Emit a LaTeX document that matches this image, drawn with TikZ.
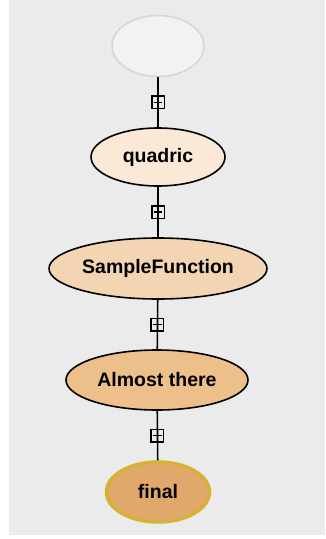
\documentclass[tikz,border=0pt]{standalone}
\usepackage{fontspec}
\setmainfont{Liberation Sans}
\usetikzlibrary{shapes.geometric}
\definecolor{bgc}{HTML}{EBEBEB}
\definecolor{topfill}{HTML}{F2F2F2}
\definecolor{topline}{HTML}{D6D6D6}
\definecolor{qfill}{HTML}{FBE9D8}
\definecolor{sfill}{HTML}{F3D5B4}
\definecolor{afill}{HTML}{ECBF8B}
\definecolor{ffill}{HTML}{E0A86B}
\definecolor{fline}{HTML}{D6B234}
\tikzset{
  stage/.style={ellipse, draw=black, line width=1.6pt, inner sep=0pt,
    font=\fontsize{19.5}{22}\selectfont\bfseries},
  plusmark/.style={draw=black, line width=1.5pt, minimum size=12.5pt, inner sep=0pt,
    path picture={\draw[line width=1.5pt] ([xshift=2pt]path picture bounding box.west) -- ([xshift=-2pt]path picture bounding box.east);}},
  link/.style={draw=black, line width=1.6pt}
}
\begin{document}
\begin{tikzpicture}[x=1pt,y=-1pt]
\useasboundingbox (0,0) rectangle (325,539);
\fill[bgc] (9,0) rectangle (325,535);
\node[stage, draw=topline, fill=topfill, minimum width=92pt, minimum height=61pt] (start) at (158,46) {};
\node[stage, fill=qfill, minimum width=134pt, minimum height=58pt] (quadric) at (158,157) {quadric};
\node[stage, fill=sfill, minimum width=218pt, minimum height=61pt] (sample) at (158,268.5) {SampleFunction};
\node[stage, fill=afill, minimum width=182pt, minimum height=60pt] (almost) at (157,380) {Almost there};
\node[stage, draw=fline, line width=3.5pt, fill=ffill, minimum width=103pt, minimum height=60pt] (final) at (158,492) {final};
\draw[link] (start) -- (quadric) node[pos=0.5, plusmark] (m1) {};
\draw[link] (quadric) -- (sample) node[pos=0.5, plusmark] (m2) {};
\draw[link] (sample) -- (almost) node[pos=0.5, plusmark] (m3) {};
\draw[link] (almost) -- (final) node[pos=0.5, plusmark] (m4) {};
\end{tikzpicture}
\end{document}
